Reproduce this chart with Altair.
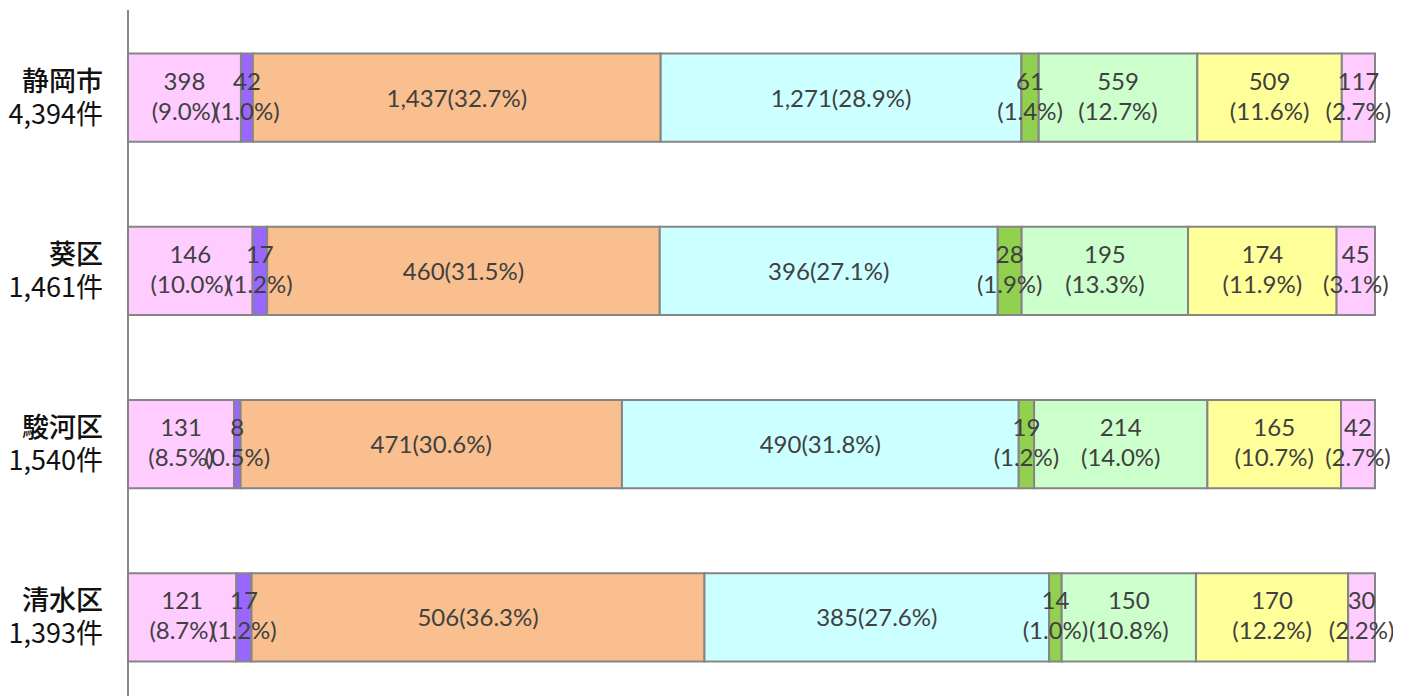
import altair as alt
import pandas as pd

areas = ["静岡市", "葵区", "駿河区", "清水区"]
area_totals = ["4,394件", "1,461件", "1,540件", "1,393件"]
categories = ["区分1", "区分2", "区分3", "区分4", "区分5", "区分6", "区分7", "区分8"]
colors = ["#FFCCFF", "#9966FF", "#F9BF8F", "#CCFFFF", "#92D050", "#CCFFCC", "#FFFF99", "#FFCCFF"]

counts_shizuoka = [398, 42, 1437, 1271, 61, 559, 509, 117]
counts_aoi = [146, 17, 460, 396, 28, 195, 174, 45]
counts_suruga = [131, 8, 471, 490, 19, 214, 165, 42]
counts_shimizu = [121, 17, 506, 385, 14, 150, 170, 30]

pcts_shizuoka = ["9.0%", "1.0%", "32.7%", "28.9%", "1.4%", "12.7%", "11.6%", "2.7%"]
pcts_aoi = ["10.0%", "1.2%", "31.5%", "27.1%", "1.9%", "13.3%", "11.9%", "3.1%"]
pcts_suruga = ["8.5%", "0.5%", "30.6%", "31.8%", "1.2%", "14.0%", "10.7%", "2.7%"]
pcts_shimizu = ["8.7%", "1.2%", "36.3%", "27.6%", "1.0%", "10.8%", "12.2%", "2.2%"]

counts = dict(zip(areas, [counts_shizuoka, counts_aoi, counts_suruga, counts_shimizu]))
pcts = dict(zip(areas, [pcts_shizuoka, pcts_aoi, pcts_suruga, pcts_shimizu]))

rows = []
for a in areas:
    for i, c in enumerate(categories):
        v = counts[a][i]
        p = pcts[a][i]
        rows.append(dict(area=a, cat=c, idx=i, count=v,
                         num=f"{v:,}", pct=f"({p})", one=f"{v:,}({p})"))
df = pd.DataFrame(rows)
df_rows = pd.DataFrame({"area": areas, "total": area_totals})

base = alt.Chart(df).transform_joinaggregate(
    total="sum(count)", groupby=["area"]
).transform_window(
    cum="sum(count)", groupby=["area"], sort=[alt.SortField("idx")], frame=[None, 0]
).transform_calculate(
    x0="(datum.cum - datum.count) / datum.total",
    x1="datum.cum / datum.total",
    xm="(datum.cum - datum.count / 2) / datum.total",
)

yscale = alt.Scale(domain=areas, paddingInner=0.492, paddingOuter=0.246)
xscale = alt.Scale(domain=[0, 1], nice=False, zero=True)

bars = base.mark_bar(stroke="#858585", strokeWidth=2).encode(
    x=alt.X("x0:Q", scale=xscale, axis=None),
    x2="x1:Q",
    y=alt.Y("area:N", scale=yscale, axis=None),
    color=alt.Color("cat:N", scale=alt.Scale(domain=categories, range=colors), legend=None),
)

axis_line = alt.Chart(df_rows).mark_rule(color="#888888", strokeWidth=2).encode(
    x=alt.value(0), y=alt.value(-1), y2=alt.value(700)
)

txt_style = dict(font="Lato", fontSize=24, color="#404040", baseline="middle", align="center")

two = base.transform_filter("datum.idx != 2 && datum.idx != 3")
line1 = two.mark_text(dy=-15, **txt_style).encode(
    x=alt.X("xm:Q", scale=xscale, axis=None),
    y=alt.Y("area:N", scale=yscale, axis=None),
    text="num:N",
)
line2 = two.mark_text(dy=15, **txt_style).encode(
    x=alt.X("xm:Q", scale=xscale, axis=None),
    y=alt.Y("area:N", scale=yscale, axis=None),
    text="pct:N",
)
single = base.transform_filter("datum.idx == 2 || datum.idx == 3").mark_text(dy=2, **txt_style).encode(
    x=alt.X("xm:Q", scale=xscale, axis=None),
    y=alt.Y("area:N", scale=yscale, axis=None),
    text="one:N",
)

lab_style = dict(font="Noto Sans CJK JP", fontSize=27, color="#111111", baseline="middle", align="right")
rl1 = alt.Chart(df_rows).mark_text(dy=-15, fontWeight=500, **lab_style).encode(
    x=alt.value(-25),
    y=alt.Y("area:N", scale=yscale, axis=None),
    text="area:N",
)
rl2 = alt.Chart(df_rows).mark_text(dy=18, **lab_style).encode(
    x=alt.value(-25),
    y=alt.Y("area:N", scale=yscale, axis=None),
    text="total:N",
)

chart = alt.layer(axis_line, bars, line1, line2, single, rl1, rl2).properties(
    width=1247,
    height=693,
    autosize=alt.AutoSizeParams(type="none"),
    padding={"left": 120, "top": 3, "right": 18, "bottom": 0},
).configure_view(stroke=None)

chart.save("out.html", embed_options={"renderer": "svg", "actions": False})
